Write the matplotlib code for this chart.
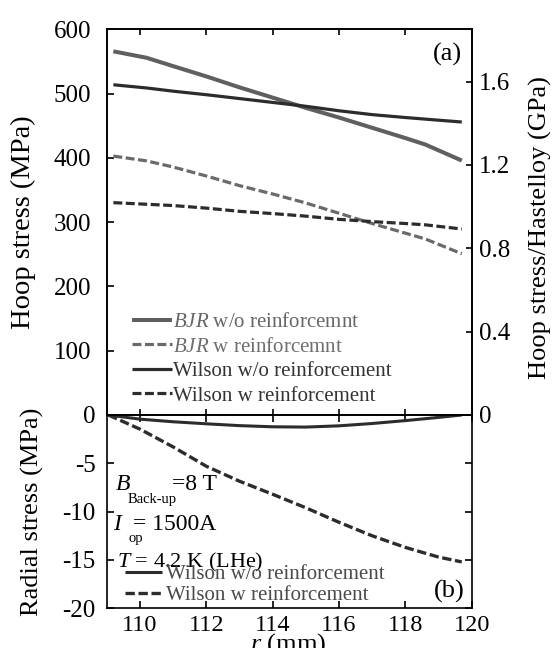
import matplotlib
matplotlib.use("Agg")
import matplotlib.pyplot as plt
from matplotlib.ticker import FixedLocator, FixedFormatter, NullFormatter

plt.rcParams['font.family'] = ['Liberation Serif', 'DejaVu Serif']
plt.rcParams['mathtext.fontset'] = 'custom'
plt.rcParams['mathtext.rm'] = 'Liberation Serif'
plt.rcParams['mathtext.it'] = 'Liberation Serif:italic'

# ---- hoop stress (MPa) along the winding radius r (mm) ----
r_hoop = [109.2, 110.2, 111, 112, 113, 114, 115, 116, 117, 118, 118.6, 119.7]
bjr_without = [566, 556, 543, 527, 510, 494, 478, 463, 447, 431, 421, 396]
bjr_with = [403, 395.5, 386, 372, 357, 344, 330, 314, 298, 283, 274, 251]
wilson_without = [514, 509, 504, 498.5, 492.5, 486.5, 480.5, 473.5, 467.5, 463, 460.5, 456]
wilson_with = [330.5, 328, 326, 322, 317, 313.5, 309.5, 304.5, 301, 298, 296, 289.5]

# ---- radial stress (MPa) ----
r_radial = [109.05, 110, 111, 112, 113, 114, 115, 116, 117, 118, 119, 119.7]
radial_without = [0, -0.43, -0.7, -0.91, -1.1, -1.22, -1.25, -1.12, -0.88, -0.58, -0.25, 0]
radial_with = [0, -1.46, -3.3, -5.3, -6.85, -8.2, -9.6, -11.1, -12.5, -13.7, -14.7, -15.2]

# ---- axes ticks and labels ----
r_ticks = [110, 112, 114, 116, 118, 120]
hoop_ticks = [100, 200, 300, 400, 500, 600]
gpa_ticks = [0, 0.4, 0.8, 1.2, 1.6]
gpa_labels = ['0', '0.4', '0.8', '1.2', '1.6']
radial_ticks = [0, -5, -10, -15, -20]
radial_labels = ['0', '-5', '-10', '-15', '-20']

hoop_series_labels = [r'$\mathit{BJR}$ w/o reinforcemnt',
                      r'$\mathit{BJR}$ w reinforcemnt',
                      'Wilson w/o reinforcement',
                      'Wilson w reinforcement']
radial_series_labels = ['Wilson w/o reinforcement', 'Wilson w reinforcement']

GRAY = '#5f5f5f'
GRAY_D = '#6a6a6a'
DARK = '#2c2c2c'
DASH = (2.8, 1.1)

fig = plt.figure(figsize=(5.55, 6.48), dpi=100)
ax_top = fig.add_axes([0.1923, 0.35957, 0.65766, 0.59491])
ax_bot = fig.add_axes([0.1923, 0.06127, 0.65766, 0.29830])
ax_gpa = ax_top.twinx()

for ax in (ax_top, ax_bot, ax_gpa):
    for sp in ax.spines.values():
        sp.set_linewidth(1.2)
        sp.set_color('black')

# top panel curves
l1, = ax_top.plot(r_hoop, bjr_without, color=GRAY, lw=2.9, solid_capstyle='butt')
l2, = ax_top.plot(r_hoop, bjr_with, color=GRAY_D, lw=2.3, dashes=DASH)
l3, = ax_top.plot(r_hoop, wilson_without, color=DARK, lw=2.3, solid_capstyle='butt')
l4, = ax_top.plot(r_hoop, wilson_with, color=DARK, lw=2.3, dashes=DASH)

ax_top.set_xlim(109, 120)
ax_top.set_ylim(0, 600)
ax_gpa.set_ylim(0, 1.85)

ax_top.xaxis.set_major_locator(FixedLocator(r_ticks))
ax_top.xaxis.set_major_formatter(NullFormatter())
ax_top.yaxis.set_major_locator(FixedLocator(hoop_ticks))
ax_top.tick_params(axis='x', which='major', direction='in', top=True, bottom=True,
                   length=4.5, width=1.2)
ax_top.tick_params(axis='y', which='major', direction='in', left=True, right=False,
                   length=4.8, width=1.2, labelsize=18, pad=11)
ax_gpa.yaxis.set_major_locator(FixedLocator(gpa_ticks))
ax_gpa.yaxis.set_major_formatter(FixedFormatter(gpa_labels))
ax_gpa.tick_params(axis='y', which='major', direction='in', length=4.5, width=1.2,
                   labelsize=18, pad=5)

ax_top.set_ylabel('Hoop stress (MPa)', fontsize=20.5)
ax_top.yaxis.set_label_coords(-0.195, 0.5)
ax_gpa.set_ylabel('Hoop stress/Hastelloy (GPa)', fontsize=19)
ax_gpa.yaxis.set_label_coords(1.158, 0.485)

ax_top.text(0.9726, 0.934, '(a)', transform=ax_top.transAxes, ha='right', va='center',
            fontsize=19)

leg_top = ax_top.legend([l1, l2, l3, l4], hoop_series_labels, loc='upper left',
                        bbox_to_anchor=(0.0685, 0.266), frameon=False, fontsize=15,
                        handlelength=1.92, handletextpad=0.05, labelspacing=0.24,
                        borderpad=0, borderaxespad=0)
for txt, col in zip(leg_top.get_texts(), ['#666666', '#6e6e6e', '#333333', '#333333']):
    txt.set_color(col)

# bottom panel curves
b1, = ax_bot.plot(r_radial, radial_without, color=DARK, lw=2.2, solid_capstyle='butt')
b2, = ax_bot.plot(r_radial, radial_with, color=DARK, lw=2.4, dashes=DASH)

ax_bot.set_xlim(109, 120)
ax_bot.set_ylim(-20, 0)
ax_bot.xaxis.set_major_locator(FixedLocator(r_ticks))
ax_bot.yaxis.set_major_locator(FixedLocator(radial_ticks))
ax_bot.yaxis.set_major_formatter(FixedFormatter(radial_labels))
ax_bot.tick_params(axis='x', which='major', direction='in', top=True, bottom=True,
                   length=5, width=1.2, labelsize=17.5, pad=5)
ax_bot.tick_params(axis='y', which='major', direction='in', left=True, right=True,
                   length=4.8, width=1.2, labelsize=18, pad=8)

ax_bot.set_ylabel('Radial stress (MPa)', fontsize=19)
ax_bot.yaxis.set_label_coords(-0.171, 0.5)
ax_bot.set_xlabel('$\\mathit{r}$ (mm)', fontsize=19)
ax_bot.xaxis.set_label_coords(0.4967, -0.118)

ax_bot.text(0.9816, 0.0859, '(b)', transform=ax_bot.transAxes, ha='right', va='center',
            fontsize=19)

# operating conditions
cond = dict(transform=ax_bot.transAxes, va='center', fontsize=17)
ax_bot.text(0.0227, 0.640, '$\\mathit{B}$', **cond)
ax_bot.text(0.0584, 0.562, 'Back-up', transform=ax_bot.transAxes, va='center', fontsize=10.5)
ax_bot.text(0.179, 0.640, '=8 T', **cond)
ax_bot.text(0.0173, 0.432, '$\\mathit{I}$', **cond)
ax_bot.text(0.0584, 0.360, 'op', transform=ax_bot.transAxes, va='center', fontsize=10.5)
ax_bot.text(0.072, 0.432, '= 1500A', **cond)
ax_bot.text(0.0274, 0.236, '$\\mathit{T}$ = 4.2 K (LHe)', transform=ax_bot.transAxes,
            va='center', fontsize=16)

leg_bot = ax_bot.legend([b1, b2], radial_series_labels, loc='upper left',
                        bbox_to_anchor=(0.0501, 0.225), frameon=False, fontsize=15,
                        handlelength=1.76, handletextpad=0.2, labelspacing=0.05,
                        borderpad=0, borderaxespad=0)
for txt in leg_bot.get_texts():
    txt.set_color('#4a4a4a')

fig.savefig('out.png', dpi=100)
